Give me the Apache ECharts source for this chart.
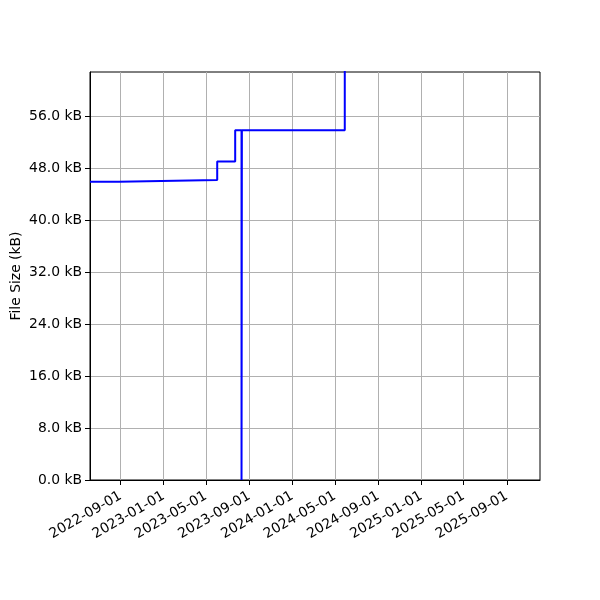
<!DOCTYPE html>
<html>
<head>
<meta charset="utf-8">
<script src="https://cdn.jsdelivr.net/npm/echarts@6/dist/echarts.min.js"></script>
<style>html,body{margin:0;padding:0;background:#fff}#c{width:600px;height:600px}</style>
</head>
<body>
<div id="c"></div>
<script>
// Data
const stepDates = ['2022-06-06','2022-08-27','2023-06-02','2023-07-23','2023-08-10','2023-08-11','2024-05-29','2025-12-04'];
const fileSizes = [45.9, 46.15, 49.0, 53.8, 0, 53.8, 70, 70];
const xTickLabels = ['2022-09-01','2023-01-01','2023-05-01','2023-09-01','2024-01-01','2024-05-01','2024-09-01','2025-01-01','2025-05-01','2025-09-01'];
const yTicks = [0, 8, 16, 24, 32, 40, 48, 56];
const xRange = ['2022-06-06', '2025-12-04'];
const yMax = 62.77;

const ts = s => Date.UTC(+s.slice(0,4), +s.slice(5,7) - 1, +s.slice(8,10));
const xTickVals = xTickLabels.map(ts);
const labelMap = {};
xTickLabels.forEach((l, i) => { labelMap[xTickVals[i]] = l; });

const chart = echarts.init(document.getElementById('c'));
const font = 'DejaVu Sans';
chart.setOption({
  animation: false,
  backgroundColor: '#fff',
  grid: { left: 90, right: 60, top: 72, bottom: 120, show: true, borderColor: '#000', borderWidth: 1, containLabel: false, outerBoundsMode: 'none' },
  xAxis: {
    type: 'value',
    min: ts(xRange[0]),
    max: ts(xRange[1]),
    axisLine: { lineStyle: { color: '#000', width: 1 } },
    axisTick: { show: true, length: 5, lineStyle: { color: '#000' }, customValues: xTickVals },
    axisLabel: {
      customValues: xTickVals,
      rotate: 30,
      color: '#000',
      fontFamily: font,
      fontSize: 13.9,
      margin: 15,
      hideOverlap: false,
      formatter: v => labelMap[v] || ''
    },
    splitLine: { show: true, lineStyle: { color: '#b0b0b0', width: 1 } }
  },
  yAxis: {
    type: 'value',
    min: 0,
    max: yMax,
    name: 'File Size (kB)',
    nameLocation: 'middle',
    nameGap: 67,
    nameMoveOverlap: false,
    nameTextStyle: { color: '#000', fontFamily: font, fontSize: 13.9 },
    axisLine: { show: true, lineStyle: { color: '#000', width: 1 } },
    axisTick: { show: true, length: 5, lineStyle: { color: '#000' }, customValues: yTicks },
    axisLabel: {
      customValues: yTicks,
      color: '#000',
      fontFamily: font,
      fontSize: 13.9,
      margin: 8,
      padding: [4, 0, 0, 0],
      formatter: v => v.toFixed(1) + ' kB'
    },
    splitLine: { show: true, lineStyle: { color: '#b0b0b0', width: 1 } }
  },
  series: [{
    type: 'line',
    step: 'end',
    showSymbol: false,
    clip: true,
    lineStyle: { color: '#0000ff', width: 2 },
    data: stepDates.map((d, i) => [ts(d), fileSizes[i]])
  }]
});
</script>
</body>
</html>
